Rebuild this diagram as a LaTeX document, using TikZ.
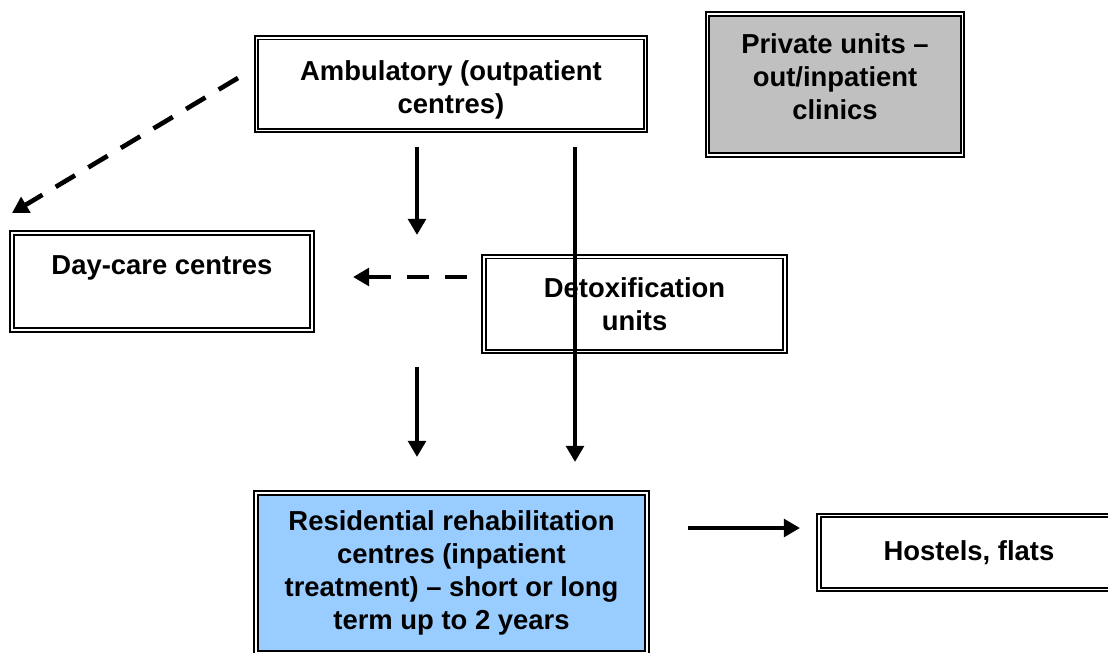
\documentclass[tikz,border=0pt]{standalone}
\usepackage{fontspec}
\setmainfont{Liberation Sans}
\usetikzlibrary{arrows.meta}
\definecolor{privgrey}{HTML}{C0C0C0}
\definecolor{resiblue}{HTML}{99CCFF}

\begin{document}
\begin{tikzpicture}[x=0.025cm, y=-0.025cm,
	every node/.style={font=\fontsize{19.5}{23.5}\selectfont\bfseries, align=center},
	>={Triangle[length=11.5pt, width=12.5pt]},
	box/.style={draw, line width=1.4pt, double=white, double distance=1.3pt, inner sep=0pt},
	flow/.style={->, line width=3.3pt},
	dashflow/.style={flow, dash pattern=on 16pt off 11pt}]
	\useasboundingbox (0,0) rectangle (1108,652);
	% boxes
	\node[box, minimum width=9.72cm, minimum height=2.32cm,
		label={[yshift=-4pt]center:Ambulatory (outpatient\\centres)}] (amb) at (451,84) {};
	\node[box, fill=privgrey, minimum width=6.37cm, minimum height=3.52cm,
		label={[yshift=5.5pt]center:Private units --\\out/inpatient\\clinics}] (priv) at (835,84.5) {};
	\node[box, minimum width=7.5cm, minimum height=2.42cm] (day) at (162,281.5) {Day-care centres\\\mbox{}};
	\node[box, minimum width=7.52cm, minimum height=2.37cm] (detox) at (634.5,304) {Detoxification\\units};
	\node[box, fill=resiblue, minimum width=9.78cm, minimum height=4.0cm] (resi) at (451.5,573) {Residential rehabilitation\\centres (inpatient\\treatment) -- short or long\\term up to 2 years};
	\node[box, minimum width=7.5cm, minimum height=1.85cm] (host) at (969,552.5) {Hostels, flats};
	% arrow ends
	\coordinate (a1) at (238,78);   \coordinate (a2) at (12,213);
	\coordinate (b1) at (417,147);  \coordinate (b2) at (417,235);
	\coordinate (c1) at (575,147);  \coordinate (c2) at (575,462);
	\coordinate (d1) at (467,277);  \coordinate (d2) at (353,277);
	\coordinate (e1) at (417,367);  \coordinate (e2) at (417,457);
	\coordinate (f1) at (688,528);  \coordinate (f2) at (800,528);
	\draw[dashflow] (a1) -- (a2);
	\draw[flow] (b1) -- (b2);
	\draw[flow] (c1) -- (c2);
	\draw[dashflow] (d1) -- (d2);
	\draw[flow] (e1) -- (e2);
	\draw[flow] (f1) -- (f2);
\end{tikzpicture}
\end{document}
